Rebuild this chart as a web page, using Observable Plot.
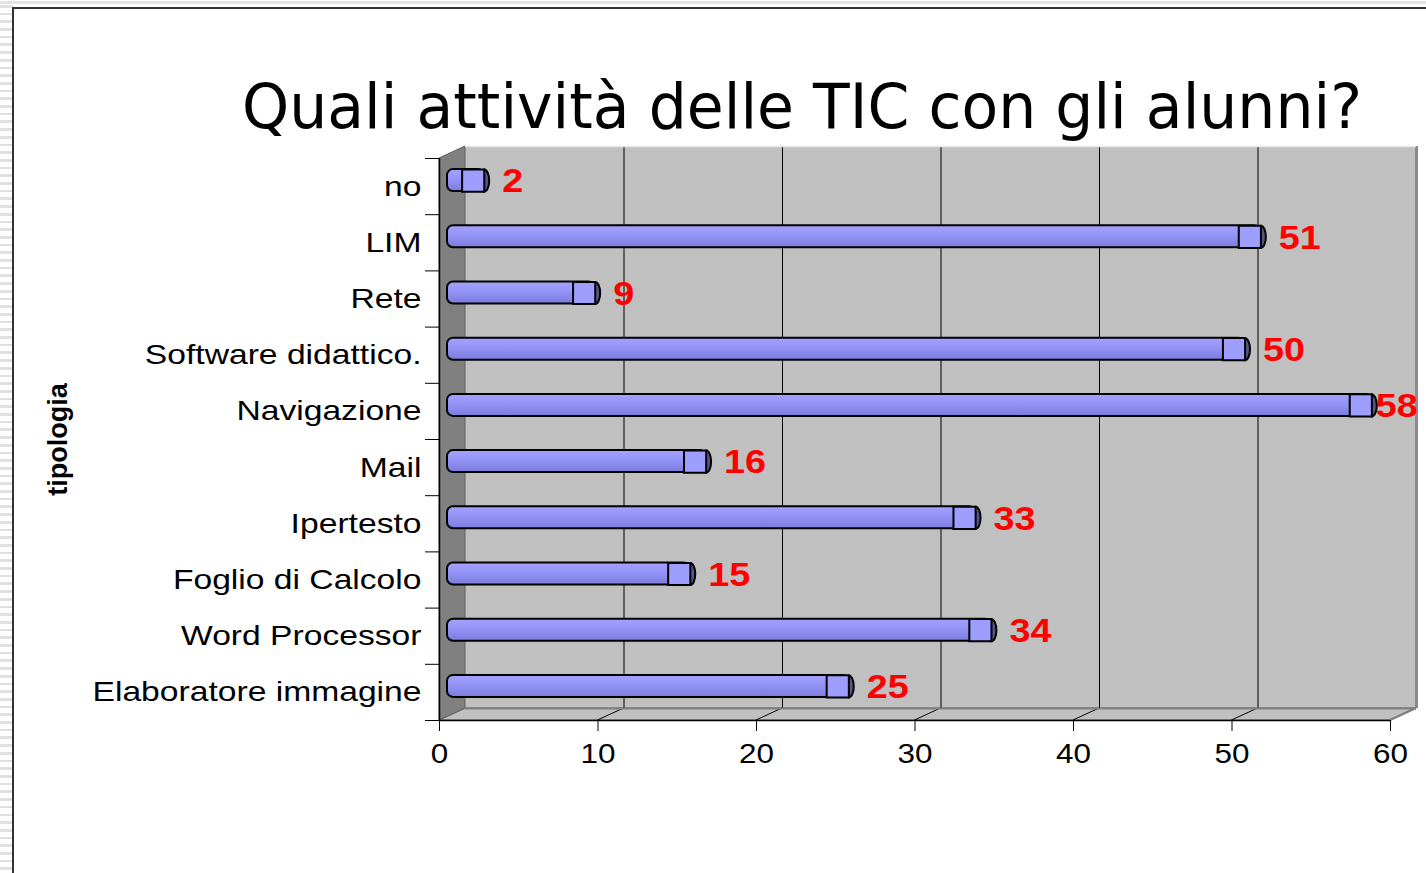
<!DOCTYPE html>
<html><head><meta charset="utf-8">
<script src="https://cdn.jsdelivr.net/npm/d3@7"></script>
<script src="https://cdn.jsdelivr.net/npm/@observablehq/plot@0.6"></script>
<style>
html,body{margin:0;padding:0;background:#fff;width:1426px;height:873px;overflow:hidden;}
#page{position:relative;width:1426px;height:873px;}
#stripes{position:absolute;left:0;top:0;width:13px;height:873px;background:repeating-linear-gradient(to bottom,#fff 0px,#fff 5px,#e0e0e0 5px,#e0e0e0 7.7px);}
#topstripe{position:absolute;left:0;top:0;width:1426px;height:5px;background:linear-gradient(to bottom,#fff 0,#fff 1px,#e4e4e4 1px,#e4e4e4 4px,#fff 4px);}
#frame{position:absolute;left:12px;top:7px;width:1420px;height:880px;border-left:2px solid #333;border-top:2px solid #333;}
#titlesvg{position:absolute;left:0;top:0;overflow:visible;}
#chart{position:absolute;left:0;top:140px;}
#chart svg{overflow:visible;}
</style>
</head><body>
<div id="page">
  <div id="stripes"></div>
  <div id="topstripe"></div>
  <div id="frame"></div>
  <svg id="titlesvg" width="1426" height="140"><text id="title" x="242" y="128" font-family="DejaVu Sans" font-size="62" fill="#000" textLength="1120" lengthAdjust="spacingAndGlyphs"></text></svg>
  <div id="chart"></div>
</div>
<script>
const titleText = "Quali attività delle TIC con gli alunni?";
const yAxisTitle = "tipologia";
const categories = ["no","LIM","Rete","Software didattico.","Navigazione","Mail","Ipertesto","Foglio di Calcolo","Word Processor","Elaboratore immagine"];
const values = [2,51,9,50,58,16,33,15,34,25];
const xTicks = [0,10,20,30,40,50,60];

document.getElementById("title").textContent = titleText;

const rows = categories.map((c,i)=>({cat:c, i, value:values[i]}));
const n = categories.length;
const maxV = d3.max(values);
const DX = 26, DY = -12;   // depth offset of back wall
const HX = 13, HY = -6;    // half depth (bars)
const FONT = "Liberation Sans, Arial, sans-serif";
const RED = "#ff0000";

const defsMark = () => {
  const defs = d3.create("svg:defs");
  const g = defs.append("linearGradient").attr("id","barGrad").attr("x1",0).attr("y1",0).attr("x2",0).attr("y2",1);
  g.append("stop").attr("offset","0%").attr("stop-color","#a2a2ff");
  g.append("stop").attr("offset","35%").attr("stop-color","#9898fa");
  g.append("stop").attr("offset","65%").attr("stop-color","#8b8bee");
  g.append("stop").attr("offset","100%").attr("stop-color","#7b7bdc");
  return defs.node();
};

const wallsMark = (index, scales) => {
  const {x, y} = scales;
  const g = d3.create("svg:g");
  const x0 = x(0), x1 = x(60), yt = y(0), yb = y(n);
  g.append("polygon")
    .attr("points", [[x0,yb],[x1,yb],[x1+DX,yb+DY],[x0+DX,yb+DY]].map(p=>p.join(",")).join(" "))
    .attr("fill","#c0c0c0").attr("stroke","#808080").attr("stroke-width",1.5);
  g.append("polygon")
    .attr("points", [[x0,yt],[x0+DX,yt+DY],[x0+DX,yb+DY],[x0,yb]].map(p=>p.join(",")).join(" "))
    .attr("fill","#808080").attr("stroke","#606060").attr("stroke-width",1);
  for (const t of xTicks.slice(1)) {
    g.append("line").attr("x1",x(t)).attr("y1",yb).attr("x2",x(t)+DX).attr("y2",yb+DY)
      .attr("stroke", t===60 ? "#808080" : "#000").attr("stroke-width", t===60 ? 2 : 1);
  }
  return g.node();
};

const ellipseSymbol = {
  draw(ctx) {
    const rx = 5, ry = 11, k = 0.5523;
    ctx.moveTo(rx, 0);
    ctx.bezierCurveTo(rx, ry*k, rx*k, ry, 0, ry);
    ctx.bezierCurveTo(-rx*k, ry, -rx, ry*k, -rx, 0);
    ctx.bezierCurveTo(-rx, -ry*k, -rx*k, -ry, 0, -ry);
    ctx.bezierCurveTo(rx*k, -ry, rx, -ry*k, rx, 0);
    ctx.closePath();
  }
};

const labelOpts = {x: "value", y: d => d.i + 0.5, text: d => String(d.value), dy: -5,
  textAnchor: "start", fill: RED, fontWeight: "bold", fontSize: 34, fontFamily: FONT};

const chart = Plot.plot({
  width: 1426,
  height: 733,
  marginLeft: 439,
  marginRight: 36,
  marginTop: 18,
  marginBottom: 153,
  style: {background: "transparent", color: "#000", fontFamily: FONT, overflow: "visible"},
  x: {domain: [0, 60]},
  y: {domain: [0, n], reverse: true},
  marks: [
    defsMark,
    Plot.rect([{}], {x1: 0, x2: 60, y1: 0, y2: n, dx: DX, dy: DY, fill: "#c0c0c0"}),
    wallsMark,
    Plot.ruleX(xTicks.slice(1, -1), {y1: 0, y2: n, dx: DX, dy: DY, stroke: "#000", strokeWidth: 1}),
    Plot.ruleX([60], {y1: 0, y2: n, dx: DX, dy: DY, stroke: "#8a8a8a", strokeWidth: 3}),
    Plot.ruleY([0], {x1: 0, x2: 60, dx: DX, dy: DY, stroke: "#e6e6e6", strokeWidth: 1.5}),
    Plot.ruleY([n], {x1: 0, x2: 60, dx: DX, dy: DY, stroke: "#808080", strokeWidth: 2}),
    Plot.rect(rows, {x1: 0, x2: "value", y1: d => d.i + 0.5 - 0.196, y2: d => d.i + 0.5 + 0.196,
      dx: HX, dy: HY, insetLeft: -5, fill: "url(#barGrad)", stroke: "#000", strokeWidth: 2, rx: 6}),
    Plot.dot(rows, {x: "value", y: d => d.i + 0.5, dx: HX, dy: HY, symbol: ellipseSymbol,
      fill: "#55558a", stroke: "#000", strokeWidth: 2}),
    Plot.dot(rows, {x: "value", y: d => d.i + 0.5, dx: 2, dy: HY, symbol: "square", r: 12.5,
      fill: "#9e9eff", stroke: "#000", strokeWidth: 2}),
    Plot.text(rows, {...labelOpts, filter: d => d.value !== maxV, dx: HX + 18}),
    Plot.text(rows, {...labelOpts, filter: d => d.value === maxV, dx: HX + 4}),
    Plot.ruleX([0], {y1: 0, y2: n, stroke: "#000", strokeWidth: 1.5}),
    Plot.ruleY([n], {x1: 0, x2: 60, stroke: "#000", strokeWidth: 1.5}),
    Plot.axisX(xTicks, {tickSize: 11, tickPadding: 12, fontSize: 28, fontFamily: FONT, tickFormat: d => String(d), label: null}),
    Plot.axisY(d3.range(0, n + 1), {tickSize: 14, tickFormat: () => "", label: null}),
    Plot.axisY(rows.map(d => d.i + 0.5), {tickSize: 0, tickPadding: 18, fontSize: 28, fontFamily: FONT,
      tickFormat: v => categories[Math.floor(v)], label: null}),
    Plot.text([yAxisTitle], {frameAnchor: "left", dx: -381, rotate: -90, textAnchor: "middle", fontWeight: "bold", fontSize: 27,
      fontFamily: FONT, fill: "#000"})
  ]
});
document.getElementById("chart").appendChild(chart);

// the original's texts are horizontally stretched: stretch glyphs by a common factor per group
function stretch(nodes, factor) {
  nodes.forEach(t => {
    const w = t.getComputedTextLength();
    t.setAttribute("textLength", (w * factor).toFixed(1));
    t.setAttribute("lengthAdjust", "spacingAndGlyphs");
  });
}
const allTexts = Array.from(chart.querySelectorAll("text"));
const isRed = t => !!t.closest('[fill="' + RED + '"]') || t.getAttribute("fill") === RED;
const catTexts = allTexts.filter(t => categories.includes(t.textContent));
const valTexts = allTexts.filter(t => isRed(t));
const tickTexts = allTexts.filter(t => !isRed(t) && xTicks.map(String).includes(t.textContent));
const ref = catTexts.find(t => t.textContent === "Elaboratore immagine");
if (ref) stretch(catTexts, 329 / ref.getComputedTextLength());
const ref2 = valTexts.find(t => t.textContent === "51");
if (ref2) stretch(valTexts, 42 / ref2.getComputedTextLength());
const ref3 = tickTexts.find(t => t.textContent === "10");
if (ref3) stretch(tickTexts, 35 / ref3.getComputedTextLength());
</script>
</body></html>
